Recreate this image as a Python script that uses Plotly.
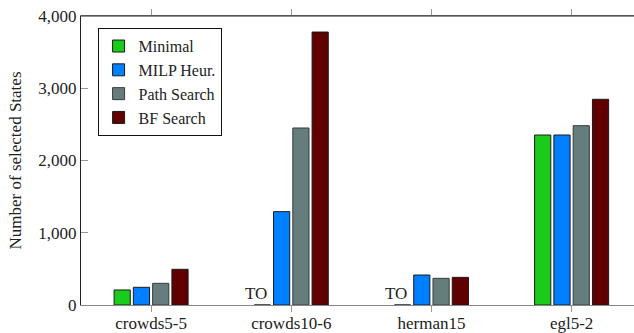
import plotly.graph_objects as go

categories = ["crowds5-5", "crowds10-6", "herman15", "egl5-2"]
series_names = ["Minimal", "MILP Heur.", "Path Search", "BF Search"]
minimal = [208, 0, 0, 2353]
milp = [245, 1292, 415, 2353]
path_search = [300, 2450, 369, 2482]
bf_search = [494, 3778, 383, 2847]
timeouts = ["crowds10-6", "herman15"]
y_ticks = [0, 1000, 2000, 3000, 4000]

colors = ["#19cc19", "#0080ff", "#667d7d", "#600000"]
outlines = ["#1a1a1a", "#1a1a1a", "#3a3a3a", "#1a1a1a"]
FONT = "Liberation Serif, Times New Roman, DejaVu Serif, serif"

fig = go.Figure()
for name, vals, c, oc in zip(series_names, [minimal, milp, path_search, bf_search], colors, outlines):
    fig.add_trace(go.Bar(x=categories, y=vals, name=name,
                         marker=dict(color=c, line=dict(color=oc, width=1))))

for cat in timeouts:
    fig.add_annotation(x=cat, y=0, text="TO", showarrow=False, xanchor="center",
                       yanchor="bottom", xshift=-35, yshift=0,
                       font=dict(family=FONT, size=17, color="#222"))

fig.update_layout(
    template="none",
    width=634, height=333,
    margin=dict(l=81, r=0, t=16, b=28, pad=0),
    paper_bgcolor="white", plot_bgcolor="white",
    barmode="group", bargap=0.45, bargroupgap=0.16,
    font=dict(family=FONT, size=17, color="#222"),
    separators=".,",
    showlegend=True,
    legend=dict(x=0.03, y=0.958, xanchor="left", yanchor="top",
                bordercolor="#111", borderwidth=1, bgcolor="white",
                font=dict(family=FONT, size=16, color="#222"),
                tracegroupgap=0, itemwidth=30),
)
fig.update_xaxes(range=[-0.5, 3.445], showline=True, linecolor="#888", linewidth=1,
                 mirror="ticks", ticks="outside", ticklen=6, tickcolor="#999", tickwidth=1,
                 showgrid=False, zeroline=False, automargin=False, ticklabelstandoff=-3,
                 tickfont=dict(family=FONT, size=17, color="#222"))
fig.update_yaxes(range=[0, 4000], tickvals=y_ticks, tickformat=",d",
                 showline=True, linecolor="#222", linewidth=1,
                 ticks="inside", ticklen=7, tickcolor="#999", showgrid=False, zeroline=False,
                 automargin=False,
                 tickfont=dict(family=FONT, size=17, color="#222"),
                 title=dict(text="Number of selected States", font=dict(family=FONT, size=17, color="#222"), standoff=12))
fig.add_shape(type="line", xref="paper", yref="paper", x0=0, x1=1, y0=1, y1=1,
              line=dict(color="#222", width=1), layer="above")
fig.write_html("out.html", config={"displayModeBar": False},
               post_script="document.body.style.margin='0';")
